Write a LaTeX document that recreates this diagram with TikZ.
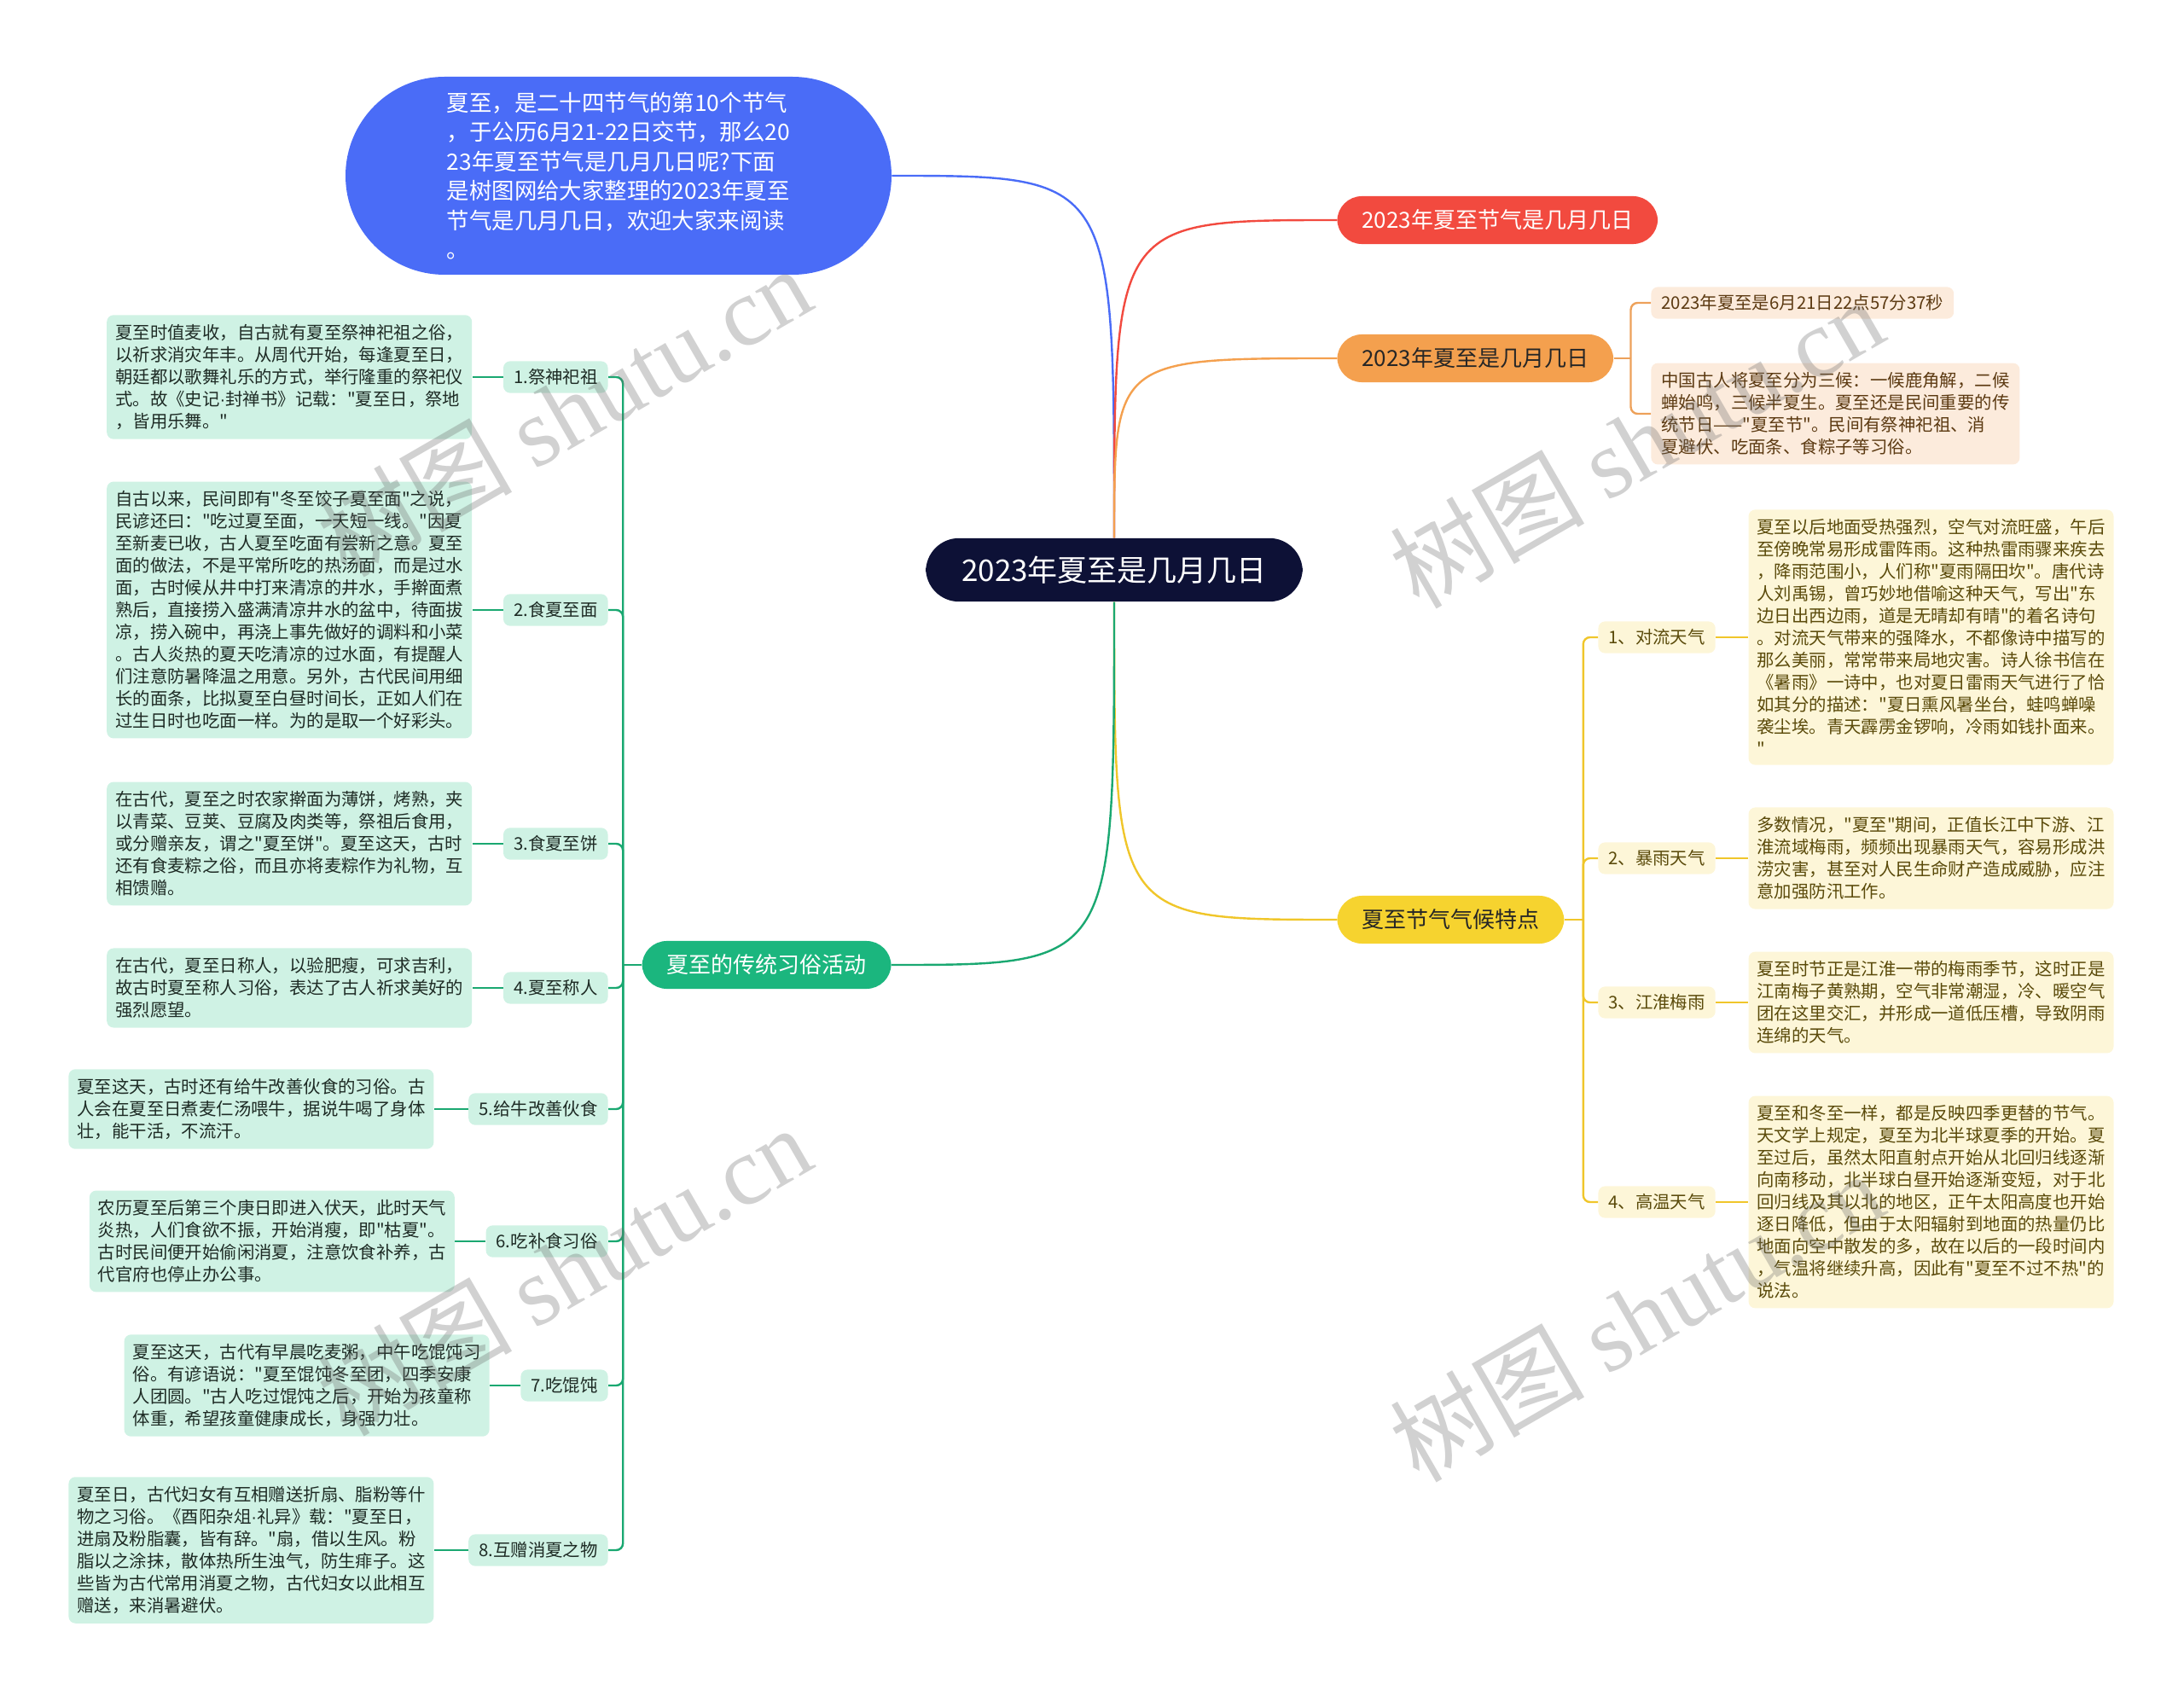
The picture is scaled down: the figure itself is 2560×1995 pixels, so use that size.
\documentclass[tikz,border=0pt]{standalone}
\usepackage{fontspec}
\setmainfont{Noto Sans CJK SC}[Ligatures=TeXOff]
\newfontfamily\wmfont{Liberation Serif}
\newfontfamily\latinfont{Liberation Sans}
\usepackage{xcolor}
\usetikzlibrary{positioning}
\definecolor{navy}{HTML}{0D1136}
\definecolor{introblue}{HTML}{4A6CF7}
\definecolor{topred}{HTML}{F24A3F}
\definecolor{toporange}{HTML}{F4A04E}
\definecolor{orangeleaf}{HTML}{FCEBDC}
\definecolor{orangetext}{HTML}{5C3A12}
\definecolor{orangeline}{HTML}{EDA15A}
\definecolor{topyellow}{HTML}{F6D32F}
\definecolor{yellowleaf}{HTML}{FDF6D8}
\definecolor{yellowtext}{HTML}{5A4A0A}
\definecolor{yellowline}{HTML}{F0C62A}
\definecolor{topgreen}{HTML}{1BB67E}
\definecolor{greenleaf}{HTML}{CFF2E4}
\definecolor{greentext}{HTML}{1E2B25}
\definecolor{greenline}{HTML}{1AA871}
\newcommand{\middot}{{\latinfont ·}}
\tikzset{rootnode/.style={fill=navy, text=white, rounded corners=19.5pt,
inner xsep=21pt, inner ysep=10.5pt, font=\fontsize{17.5}{20}\selectfont},
topicnode/.style={rounded corners=14.5pt, inner xsep=14.5pt, inner ysep=8pt,
font=\fontsize{13}{16}\selectfont},
tagbox/.style={rounded corners=4pt, inner xsep=6pt, inner ysep=4.6pt,
font=\fontsize{10.2}{13}\selectfont},
leafbox/.style={rounded corners=4pt, inner xsep=5pt, inner ysep=5.5pt, align=left,
font=\fontsize{10.2}{13}\selectfont},
branch/.style={line width=1.2pt},
watermark/.style={text=black!60, text opacity=0.3, rotate=30,
font=\fontsize{57}{60}\selectfont}}

\begin{document}
\begin{tikzpicture}[x=0.5pt, y=-0.5pt]
\useasboundingbox (0,0) rectangle (2560,1995);

				\node[rootnode] (root) at (1306,668) {2023年夏至是几月几日};
				\node[fill=introblue, text=white, rounded corners=58pt, minimum width=320pt,
					minimum height=116pt, align=left, font=\fontsize{13.2}{17.25}\selectfont]
					(intro) at (725,206) {夏至，是二十四节气的第10个节气\\
					，于公历6月21-22日交节，那么20\\
					23年夏至节气是几月几日呢?下面\\
					是树图网给大家整理的2023年夏至\\
					节气是几月几日，欢迎大家来阅读\\
					。};

				% right side
				\node[topicnode, fill=topred, text=white, anchor=west] (date) at (1567,258) {2023年夏至节气是几月几日};
				\node[topicnode, fill=toporange, text=black!85, anchor=west] (when) at (1567,420) {2023年夏至是几月几日};
				\node[tagbox, fill=orangeleaf, text=orangetext, anchor=west] (when1) at (1935,355) {2023年夏至是6月21日22点57分37秒};
				\node[leafbox, fill=orangeleaf, text=orangetext, inner xsep=6pt, anchor=west] (when2) at (1935,485) {中国古人将夏至分为三候：一候鹿角解，二候\\
					蝉始鸣，三候半夏生。夏至还是民间重要的传\\
					统节日——"夏至节"。民间有祭神祀祖、消\\
					夏避伏、吃面条、食粽子等习俗。};

				\node[topicnode, fill=topyellow, text=black!85, anchor=west] (climate) at (1567,1078) {夏至节气气候特点};
				\node[tagbox, fill=yellowleaf, text=yellowtext, anchor=west] (w1) at (1873,747) {1、对流天气};
				\node[tagbox, fill=yellowleaf, text=yellowtext, anchor=west] (w2) at (1873,1006) {2、暴雨天气};
				\node[tagbox, fill=yellowleaf, text=yellowtext, anchor=west] (w3) at (1873,1175) {3、江淮梅雨};
				\node[tagbox, fill=yellowleaf, text=yellowtext, anchor=west] (w4) at (1873,1409) {4、高温天气};
				\node[leafbox, fill=yellowleaf, text=yellowtext, right=19pt of w1] (wd1) {夏至以后地面受热强烈，空气对流旺盛，午后\\
					至傍晚常易形成雷阵雨。这种热雷雨骤来疾去\\
					，降雨范围小，人们称"夏雨隔田坎"。唐代诗\\
					人刘禹锡，曾巧妙地借喻这种天气，写出"东\\
					边日出西边雨，道是无晴却有晴"的着名诗句\\
					。对流天气带来的强降水，不都像诗中描写的\\
					那么美丽，常常带来局地灾害。诗人徐书信在\\
					《暑雨》一诗中，也对夏日雷雨天气进行了恰\\
					如其分的描述："夏日熏风暑坐台，蛙鸣蝉噪\\
					袭尘埃。青天霹雳金锣响，冷雨如钱扑面来。\\
					"};
				\node[leafbox, fill=yellowleaf, text=yellowtext, right=19pt of w2] (wd2) {多数情况，"夏至"期间，正值长江中下游、江\\
					淮流域梅雨，频频出现暴雨天气，容易形成洪\\
					涝灾害，甚至对人民生命财产造成威胁，应注\\
					意加强防汛工作。};
				\node[leafbox, fill=yellowleaf, text=yellowtext, right=19pt of w3] (wd3) {夏至时节正是江淮一带的梅雨季节，这时正是\\
					江南梅子黄熟期，空气非常潮湿，冷、暖空气\\
					团在这里交汇，并形成一道低压槽，导致阴雨\\
					连绵的天气。};
				\node[leafbox, fill=yellowleaf, text=yellowtext, right=19pt of w4] (wd4) {夏至和冬至一样，都是反映四季更替的节气。\\
					天文学上规定，夏至为北半球夏季的开始。夏\\
					至过后，虽然太阳直射点开始从北回归线逐渐\\
					向南移动，北半球白昼开始逐渐变短，对于北\\
					回归线及其以北的地区，正午太阳高度也开始\\
					逐日降低，但由于太阳辐射到地面的热量仍比\\
					地面向空中散发的多，故在以后的一段时间内\\
					，气温将继续升高，因此有"夏至不过不热"的\\
					说法。};

				% left side
				\node[topicnode, fill=topgreen, text=white, anchor=east] (custom) at (1045,1131) {夏至的传统习俗活动};
				\node[tagbox, fill=greenleaf, text=greentext, anchor=east] (c1) at (713,442) {1.祭神祀祖};
				\node[tagbox, fill=greenleaf, text=greentext, anchor=east] (c2) at (713,715) {2.食夏至面};
				\node[tagbox, fill=greenleaf, text=greentext, anchor=east] (c3) at (713,989) {3.食夏至饼};
				\node[tagbox, fill=greenleaf, text=greentext, anchor=east] (c4) at (713,1158) {4.夏至称人};
				\node[tagbox, fill=greenleaf, text=greentext, anchor=east] (c5) at (713,1300) {5.给牛改善伙食};
				\node[tagbox, fill=greenleaf, text=greentext, anchor=east] (c6) at (713,1455) {6.吃补食习俗};
				\node[tagbox, fill=greenleaf, text=greentext, anchor=east] (c7) at (713,1624) {7.吃馄饨};
				\node[tagbox, fill=greenleaf, text=greentext, anchor=east] (c8) at (713,1817) {8.互赠消夏之物};
				\node[leafbox, fill=greenleaf, text=greentext, left=18pt of c1] (cd1) {夏至时值麦收，自古就有夏至祭神祀祖之俗，\\
					以祈求消灾年丰。从周代开始，每逢夏至日，\\
					朝廷都以歌舞礼乐的方式，举行隆重的祭祀仪\\
					式。故《史记\middot 封禅书》记载："夏至日，祭地\\
					，皆用乐舞。"};
				\node[leafbox, fill=greenleaf, text=greentext, left=18pt of c2] (cd2) {自古以来，民间即有"冬至饺子夏至面"之说，\\
					民谚还曰："吃过夏至面，一天短一线。"因夏\\
					至新麦已收，古人夏至吃面有尝新之意。夏至\\
					面的做法，不是平常所吃的热汤面，而是过水\\
					面，古时候从井中打来清凉的井水，手擀面煮\\
					熟后，直接捞入盛满清凉井水的盆中，待面拔\\
					凉，捞入碗中，再浇上事先做好的调料和小菜\\
					。古人炎热的夏天吃清凉的过水面，有提醒人\\
					们注意防暑降温之用意。另外，古代民间用细\\
					长的面条，比拟夏至白昼时间长，正如人们在\\
					过生日时也吃面一样。为的是取一个好彩头。};
				\node[leafbox, fill=greenleaf, text=greentext, left=18pt of c3] (cd3) {在古代，夏至之时农家擀面为薄饼，烤熟，夹\\
					以青菜、豆荚、豆腐及肉类等，祭祖后食用，\\
					或分赠亲友，谓之"夏至饼"。夏至这天，古时\\
					还有食麦粽之俗，而且亦将麦粽作为礼物，互\\
					相馈赠。};
				\node[leafbox, fill=greenleaf, text=greentext, left=18pt of c4] (cd4) {在古代，夏至日称人，以验肥瘦，可求吉利，\\
					故古时夏至称人习俗，表达了古人祈求美好的\\
					强烈愿望。};
				\node[leafbox, fill=greenleaf, text=greentext, left=20pt of c5] (cd5) {夏至这天，古时还有给牛改善伙食的习俗。古\\
					人会在夏至日煮麦仁汤喂牛，据说牛喝了身体\\
					壮，能干活，不流汗。};
				\node[leafbox, fill=greenleaf, text=greentext, left=18pt of c6] (cd6) {农历夏至后第三个庚日即进入伏天，此时天气\\
					炎热，人们食欲不振，开始消瘦，即"枯夏"。\\
					古时民间便开始偷闲消夏，注意饮食补养，古\\
					代官府也停止办公事。};
				\node[leafbox, fill=greenleaf, text=greentext, left=18pt of c7] (cd7) {夏至这天，古代有早晨吃麦粥，中午吃馄饨习\\
					俗。有谚语说："夏至馄饨冬至团，四季安康\\
					人团圆。"古人吃过馄饨之后，开始为孩童称\\
					体重，希望孩童健康成长，身强力壮。};
				\node[leafbox, fill=greenleaf, text=greentext, left=20pt of c8] (cd8) {夏至日，古代妇女有互相赠送折扇、脂粉等什\\
					物之习俗。《酉阳杂俎\middot 礼异》载："夏至日，\\
					进扇及粉脂囊，皆有辞。"扇，借以生风。粉\\
					脂以之涂抹，散体热所生浊气，防生痱子。这\\
					些皆为古代常用消夏之物，古代妇女以此相互\\
					赠送，来消暑避伏。};

				% branches from the root
				\draw[branch, introblue] (root.north) .. controls (root.north |- intro.east) .. (intro.east);
				\draw[branch, topred] (root.north) .. controls (root.north |- date.west) .. (date.west);
				\draw[branch, toporange] (root.north) .. controls (root.north |- when.west) .. (when.west);
				\draw[branch, yellowline] (root.south) .. controls (root.south |- climate.west) .. (climate.west);
				\draw[branch, greenline] (root.south) .. controls (root.south |- custom.east) .. (custom.east);

				\draw[branch, orangeline] (when.east) -- ++(20,0) coordinate (wj);
				\draw[branch, orangeline, rounded corners=4pt] (wj) |- (when1.west);
				\draw[branch, orangeline, rounded corners=4pt] (wj) |- (when2.west);

				\draw[branch, yellowline] (climate.east) -- ++(22,0) coordinate (yj);
				\draw[branch, yellowline, rounded corners=4pt] (yj) |- (w1.west);
				\draw[branch, yellowline, rounded corners=4pt] (yj) |- (w2.west);
				\draw[branch, yellowline, rounded corners=4pt] (yj) |- (w3.west);
				\draw[branch, yellowline, rounded corners=4pt] (yj) |- (w4.west);
				\draw[branch, yellowline] (w1.east) -- (wd1.west);
				\draw[branch, yellowline] (w2.east) -- (wd2.west);
				\draw[branch, yellowline] (w3.east) -- (wd3.west);
				\draw[branch, yellowline] (w4.east) -- (wd4.west);

				\draw[branch, greenline] (custom.west) -- ++(-22,0) coordinate (gj);
				\draw[branch, greenline, rounded corners=4pt] (gj) |- (c1.east);
				\draw[branch, greenline, rounded corners=4pt] (gj) |- (c2.east);
				\draw[branch, greenline, rounded corners=4pt] (gj) |- (c3.east);
				\draw[branch, greenline, rounded corners=4pt] (gj) |- (c4.east);
				\draw[branch, greenline, rounded corners=4pt] (gj) |- (c5.east);
				\draw[branch, greenline, rounded corners=4pt] (gj) |- (c6.east);
				\draw[branch, greenline, rounded corners=4pt] (gj) |- (c7.east);
				\draw[branch, greenline, rounded corners=4pt] (gj) |- (c8.east);
				\draw[branch, greenline] (c1.west) -- (cd1.east);
				\draw[branch, greenline] (c2.west) -- (cd2.east);
				\draw[branch, greenline] (c3.west) -- (cd3.east);
				\draw[branch, greenline] (c4.west) -- (cd4.east);
				\draw[branch, greenline] (c5.west) -- (cd5.east);
				\draw[branch, greenline] (c6.west) -- (cd6.east);
				\draw[branch, greenline] (c7.west) -- (cd7.east);
				\draw[branch, greenline] (c8.west) -- (cd8.east);

				% watermarks
				\node[watermark] (wm1) at (661,482) {树图 {\wmfont shutu.cn}};
				\node[watermark] (wm2) at (1918,519) {树图 {\wmfont shutu.cn}};
				\node[watermark] (wm3) at (661,1489) {树图 {\wmfont shutu.cn}};
				\node[watermark] (wm4) at (1918,1543) {树图 {\wmfont shutu.cn}};
\end{tikzpicture}
\end{document}
